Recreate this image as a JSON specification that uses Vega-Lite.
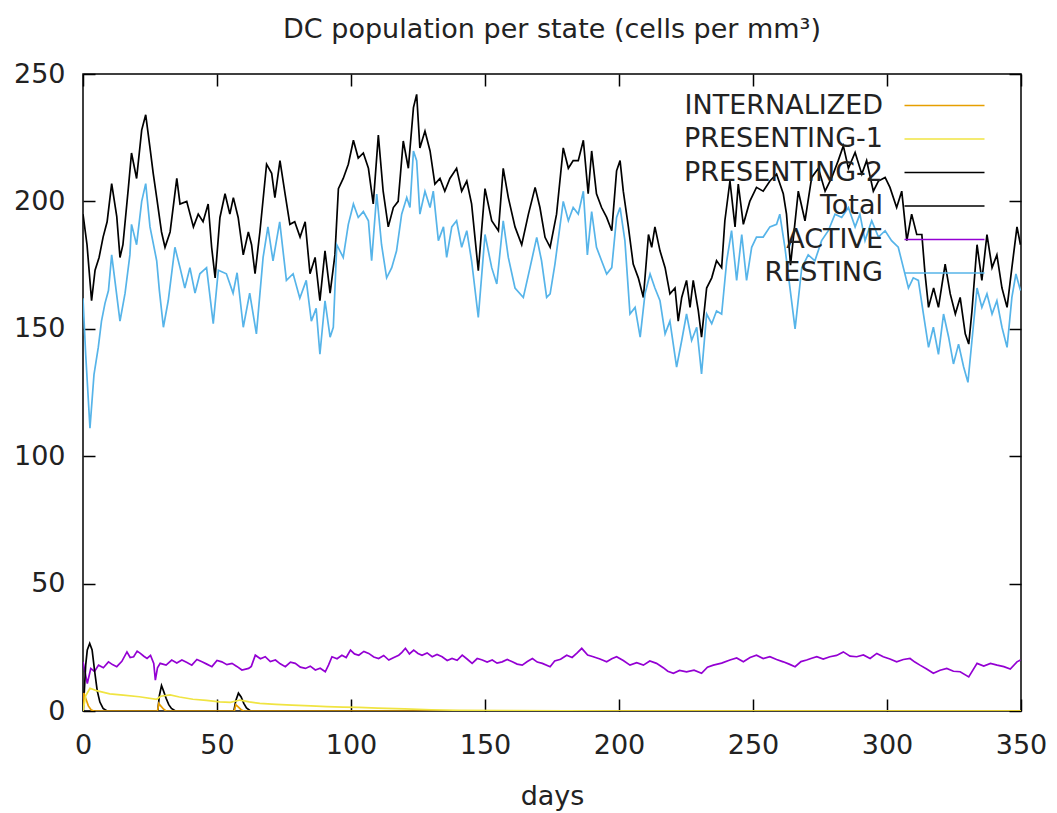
{
  "$schema": "https://vega.github.io/schema/vega-lite/v6.json",
  "autosize": {"type": "none"},
  "padding": {"left": 83, "top": 74, "right": 36, "bottom": 102},
  "width": 938,
  "height": 637,
  "background": "white",
  "config": {
    "font": "DejaVu Sans",
    "view": {"stroke": "#000000", "strokeWidth": 1.5},
    "axis": {"grid": false, "domain": false, "tickColor": "#000000", "tickWidth": 1.5, "tickSize": -12, "labelFont": "DejaVu Sans", "labelFontSize": 27, "labelColor": "#222222", "titleFont": "DejaVu Sans", "titleFontSize": 27, "titleFontWeight": "normal", "titleColor": "#222222", "labelFlush": false, "labelOverlap": false}
  },
  "title": {"text": "DC population per state (cells per mm³)", "font": "DejaVu Sans", "fontSize": 27, "fontWeight": "normal", "color": "#222222", "anchor": "middle", "baseline": "alphabetic", "offset": -5},
  "resolve": {"axis": {"x": "independent", "y": "independent"}},
  "layer": [
    {
      "data": {"values": [
        {"s":"Total","d":0,"v":195},{"s":"Total","d":1.5,"v":183},{"s":"Total","d":3.2,"v":161},{"s":"Total","d":4.5,"v":173},{"s":"Total","d":6,"v":178},{"s":"Total","d":7.5,"v":186},{"s":"Total","d":9,"v":192},{"s":"Total","d":10.7,"v":207},{"s":"Total","d":12.6,"v":194},{"s":"Total","d":13.8,"v":178},{"s":"Total","d":14.9,"v":183},{"s":"Total","d":16.9,"v":205},{"s":"Total","d":18.1,"v":219},{"s":"Total","d":20,"v":209},{"s":"Total","d":21.9,"v":228},{"s":"Total","d":23.4,"v":234},{"s":"Total","d":25,"v":221},{"s":"Total","d":26.2,"v":211},{"s":"Total","d":27.5,"v":201.5},{"s":"Total","d":29.3,"v":188},{"s":"Total","d":30.6,"v":182},{"s":"Total","d":32.5,"v":188},{"s":"Total","d":35,"v":209},{"s":"Total","d":36.2,"v":199},{"s":"Total","d":38.7,"v":200},{"s":"Total","d":41.2,"v":190},{"s":"Total","d":43,"v":195},{"s":"Total","d":44.8,"v":192},{"s":"Total","d":46.7,"v":199},{"s":"Total","d":48,"v":182},{"s":"Total","d":49.3,"v":170},{"s":"Total","d":51.1,"v":193.7},{"s":"Total","d":53,"v":203},{"s":"Total","d":54.8,"v":195},{"s":"Total","d":56.1,"v":201.5},{"s":"Total","d":57.9,"v":193.7},{"s":"Total","d":59.8,"v":179},{"s":"Total","d":61.7,"v":188},{"s":"Total","d":62.9,"v":183},{"s":"Total","d":64.2,"v":171.6},{"s":"Total","d":66,"v":188},{"s":"Total","d":68.5,"v":214.6},{"s":"Total","d":70.4,"v":211},{"s":"Total","d":71.6,"v":201.5},{"s":"Total","d":73.5,"v":216},{"s":"Total","d":75.4,"v":203},{"s":"Total","d":77.2,"v":191},{"s":"Total","d":79,"v":192},{"s":"Total","d":81,"v":186},{"s":"Total","d":82.9,"v":192},{"s":"Total","d":84.7,"v":171.6},{"s":"Total","d":86.6,"v":178},{"s":"Total","d":88.4,"v":161},{"s":"Total","d":90.3,"v":180.6},{"s":"Total","d":92.2,"v":164},{"s":"Total","d":94,"v":179},{"s":"Total","d":95.3,"v":205},{"s":"Total","d":97.1,"v":209},{"s":"Total","d":99,"v":214.6},{"s":"Total","d":100.9,"v":224},{"s":"Total","d":102.7,"v":217},{"s":"Total","d":104.6,"v":219},{"s":"Total","d":106.5,"v":213},{"s":"Total","d":108.3,"v":199},{"s":"Total","d":110.2,"v":226},{"s":"Total","d":112,"v":204},{"s":"Total","d":113.9,"v":190},{"s":"Total","d":115.8,"v":197.6},{"s":"Total","d":117.6,"v":200},{"s":"Total","d":119.5,"v":223.7},{"s":"Total","d":121.4,"v":213},{"s":"Total","d":123.3,"v":236.8},{"s":"Total","d":124.5,"v":242},{"s":"Total","d":125.7,"v":221},{"s":"Total","d":127.6,"v":227.6},{"s":"Total","d":129.5,"v":219.8},{"s":"Total","d":131.3,"v":206.8},{"s":"Total","d":133.2,"v":209},{"s":"Total","d":135,"v":204},{"s":"Total","d":136.9,"v":209},{"s":"Total","d":139.4,"v":213},{"s":"Total","d":141.3,"v":204},{"s":"Total","d":143.2,"v":208},{"s":"Total","d":145,"v":199},{"s":"Total","d":147.5,"v":172.8},{"s":"Total","d":150,"v":205},{"s":"Total","d":152.5,"v":192.4},{"s":"Total","d":155,"v":188.5},{"s":"Total","d":156.8,"v":213},{"s":"Total","d":158.7,"v":201.5},{"s":"Total","d":161.2,"v":190},{"s":"Total","d":163.7,"v":183},{"s":"Total","d":166.2,"v":195},{"s":"Total","d":168.7,"v":205.5},{"s":"Total","d":170.5,"v":197.6},{"s":"Total","d":172.4,"v":185.9},{"s":"Total","d":174.3,"v":182},{"s":"Total","d":176.7,"v":195},{"s":"Total","d":179.2,"v":221},{"s":"Total","d":181.1,"v":213},{"s":"Total","d":182.9,"v":216},{"s":"Total","d":184.8,"v":216},{"s":"Total","d":186.7,"v":224},{"s":"Total","d":188.5,"v":203},{"s":"Total","d":189.8,"v":219.8},{"s":"Total","d":191.6,"v":203},{"s":"Total","d":193.5,"v":197.6},{"s":"Total","d":195.4,"v":193.7},{"s":"Total","d":197.3,"v":188.5},{"s":"Total","d":199.1,"v":212},{"s":"Total","d":200.4,"v":216},{"s":"Total","d":201.6,"v":204},{"s":"Total","d":203.5,"v":190},{"s":"Total","d":205.3,"v":175.4},{"s":"Total","d":207.2,"v":170},{"s":"Total","d":209.1,"v":162.3},{"s":"Total","d":211,"v":187},{"s":"Total","d":212.2,"v":182},{"s":"Total","d":213.4,"v":190},{"s":"Total","d":215.3,"v":180.6},{"s":"Total","d":217.2,"v":174},{"s":"Total","d":219,"v":163.7},{"s":"Total","d":220.9,"v":166},{"s":"Total","d":222.1,"v":153},{"s":"Total","d":223.4,"v":162.3},{"s":"Total","d":225.2,"v":169},{"s":"Total","d":226.5,"v":158.4},{"s":"Total","d":227.7,"v":169},{"s":"Total","d":229.6,"v":157},{"s":"Total","d":230.8,"v":146.7},{"s":"Total","d":232.7,"v":166},{"s":"Total","d":234.6,"v":170},{"s":"Total","d":236.4,"v":176.7},{"s":"Total","d":238.3,"v":174},{"s":"Total","d":239.5,"v":192.4},{"s":"Total","d":241.4,"v":208},{"s":"Total","d":243.3,"v":190},{"s":"Total","d":244.5,"v":206.8},{"s":"Total","d":246.4,"v":191},{"s":"Total","d":248.8,"v":200},{"s":"Total","d":251.3,"v":205.5},{"s":"Total","d":253.8,"v":204},{"s":"Total","d":256.3,"v":208},{"s":"Total","d":258.8,"v":210.7},{"s":"Total","d":261.3,"v":203},{"s":"Total","d":262.5,"v":195},{"s":"Total","d":264,"v":175},{"s":"Total","d":266.9,"v":204},{"s":"Total","d":269.4,"v":192.4},{"s":"Total","d":271.9,"v":209.4},{"s":"Total","d":274.4,"v":213},{"s":"Total","d":276.9,"v":204},{"s":"Total","d":279.4,"v":209.4},{"s":"Total","d":281.8,"v":216},{"s":"Total","d":283.7,"v":221.8},{"s":"Total","d":285.6,"v":213},{"s":"Total","d":288.1,"v":219.2},{"s":"Total","d":290.6,"v":210.7},{"s":"Total","d":292.4,"v":216},{"s":"Total","d":294.9,"v":204},{"s":"Total","d":296.8,"v":208},{"s":"Total","d":299.3,"v":209.4},{"s":"Total","d":301.1,"v":205.5},{"s":"Total","d":303.6,"v":197.6},{"s":"Total","d":305.5,"v":204},{"s":"Total","d":307.4,"v":184.6},{"s":"Total","d":309.2,"v":195},{"s":"Total","d":311.1,"v":187},{"s":"Total","d":313,"v":187},{"s":"Total","d":314.2,"v":171.5},{"s":"Total","d":315.5,"v":158.4},{"s":"Total","d":317.4,"v":166},{"s":"Total","d":319.2,"v":158.4},{"s":"Total","d":321.7,"v":175.4},{"s":"Total","d":323.6,"v":163.7},{"s":"Total","d":325.5,"v":155.8},{"s":"Total","d":327.3,"v":162.3},{"s":"Total","d":329.2,"v":148},{"s":"Total","d":330.5,"v":144},{"s":"Total","d":331.7,"v":157},{"s":"Total","d":333.6,"v":183},{"s":"Total","d":335.4,"v":169},{"s":"Total","d":337.3,"v":187},{"s":"Total","d":339.2,"v":174},{"s":"Total","d":341,"v":179},{"s":"Total","d":342.9,"v":166},{"s":"Total","d":344.8,"v":158.4},{"s":"Total","d":346.6,"v":174},{"s":"Total","d":348.5,"v":190},{"s":"Total","d":349.8,"v":183},

        {"s":"RESTING","d":0,"v":162},{"s":"RESTING","d":1,"v":140},{"s":"RESTING","d":2.6,"v":111},{"s":"RESTING","d":4.1,"v":132},{"s":"RESTING","d":5.7,"v":142.7},{"s":"RESTING","d":6.9,"v":153},{"s":"RESTING","d":8.2,"v":160},{"s":"RESTING","d":9.5,"v":165},{"s":"RESTING","d":10.7,"v":179},{"s":"RESTING","d":11.9,"v":169},{"s":"RESTING","d":13.8,"v":153},{"s":"RESTING","d":15.7,"v":164},{"s":"RESTING","d":17.5,"v":179},{"s":"RESTING","d":18.1,"v":191},{"s":"RESTING","d":20,"v":183},{"s":"RESTING","d":21.9,"v":200},{"s":"RESTING","d":23.4,"v":207},{"s":"RESTING","d":25,"v":190},{"s":"RESTING","d":27.5,"v":176.7},{"s":"RESTING","d":28.5,"v":165},{"s":"RESTING","d":30,"v":150.6},{"s":"RESTING","d":31.8,"v":161},{"s":"RESTING","d":34.3,"v":182},{"s":"RESTING","d":36.2,"v":174},{"s":"RESTING","d":38,"v":166},{"s":"RESTING","d":39.9,"v":174},{"s":"RESTING","d":41.8,"v":164},{"s":"RESTING","d":43.6,"v":171.6},{"s":"RESTING","d":46.1,"v":174},{"s":"RESTING","d":48.6,"v":152},{"s":"RESTING","d":50.5,"v":173},{"s":"RESTING","d":53.5,"v":171.6},{"s":"RESTING","d":56,"v":164},{"s":"RESTING","d":57.5,"v":172},{"s":"RESTING","d":59.8,"v":150.6},{"s":"RESTING","d":62.2,"v":164},{"s":"RESTING","d":64.7,"v":148},{"s":"RESTING","d":67.2,"v":178},{"s":"RESTING","d":69,"v":190},{"s":"RESTING","d":70.9,"v":176.7},{"s":"RESTING","d":73.4,"v":192},{"s":"RESTING","d":75.9,"v":169},{"s":"RESTING","d":78.4,"v":171.6},{"s":"RESTING","d":80.9,"v":162},{"s":"RESTING","d":83.3,"v":169},{"s":"RESTING","d":85.2,"v":153},{"s":"RESTING","d":87,"v":158},{"s":"RESTING","d":88.4,"v":140},{"s":"RESTING","d":90.3,"v":161},{"s":"RESTING","d":92.2,"v":146.7},{"s":"RESTING","d":93.4,"v":150.6},{"s":"RESTING","d":94.7,"v":183},{"s":"RESTING","d":97.1,"v":178},{"s":"RESTING","d":99,"v":191},{"s":"RESTING","d":100.9,"v":199},{"s":"RESTING","d":102.7,"v":193.7},{"s":"RESTING","d":104.6,"v":196},{"s":"RESTING","d":106.5,"v":192.4},{"s":"RESTING","d":107.7,"v":176.7},{"s":"RESTING","d":109.6,"v":202.9},{"s":"RESTING","d":111.4,"v":183},{"s":"RESTING","d":113.3,"v":170},{"s":"RESTING","d":115.2,"v":174},{"s":"RESTING","d":117,"v":180.6},{"s":"RESTING","d":118.9,"v":195},{"s":"RESTING","d":120.8,"v":201.5},{"s":"RESTING","d":122,"v":197.6},{"s":"RESTING","d":123.3,"v":219.8},{"s":"RESTING","d":124.5,"v":216},{"s":"RESTING","d":125.7,"v":195},{"s":"RESTING","d":127.6,"v":204},{"s":"RESTING","d":129.5,"v":197.6},{"s":"RESTING","d":130.7,"v":204},{"s":"RESTING","d":132.6,"v":184.6},{"s":"RESTING","d":134.5,"v":190},{"s":"RESTING","d":135.7,"v":178},{"s":"RESTING","d":137.6,"v":190},{"s":"RESTING","d":139.4,"v":192.4},{"s":"RESTING","d":141.3,"v":182},{"s":"RESTING","d":143.2,"v":188.5},{"s":"RESTING","d":145,"v":176.7},{"s":"RESTING","d":147.5,"v":154.5},{"s":"RESTING","d":150,"v":187},{"s":"RESTING","d":152.5,"v":174},{"s":"RESTING","d":154.4,"v":167.6},{"s":"RESTING","d":156.8,"v":192.4},{"s":"RESTING","d":158.7,"v":178},{"s":"RESTING","d":161.2,"v":166},{"s":"RESTING","d":164.3,"v":162.3},{"s":"RESTING","d":166.8,"v":174},{"s":"RESTING","d":169.3,"v":185.9},{"s":"RESTING","d":171.1,"v":176.7},{"s":"RESTING","d":173,"v":162.3},{"s":"RESTING","d":174.3,"v":163.7},{"s":"RESTING","d":176.1,"v":175.4},{"s":"RESTING","d":179.2,"v":200},{"s":"RESTING","d":181.1,"v":192.4},{"s":"RESTING","d":182.9,"v":197.6},{"s":"RESTING","d":184.8,"v":195},{"s":"RESTING","d":186.7,"v":204},{"s":"RESTING","d":188.2,"v":179},{"s":"RESTING","d":189.8,"v":196},{"s":"RESTING","d":191.6,"v":182},{"s":"RESTING","d":193.5,"v":176.7},{"s":"RESTING","d":195.4,"v":171.5},{"s":"RESTING","d":197.3,"v":174},{"s":"RESTING","d":199.1,"v":193.7},{"s":"RESTING","d":200.4,"v":197.6},{"s":"RESTING","d":202.2,"v":184.6},{"s":"RESTING","d":204.1,"v":155.8},{"s":"RESTING","d":206,"v":158.4},{"s":"RESTING","d":207.9,"v":146.7},{"s":"RESTING","d":209.7,"v":163.7},{"s":"RESTING","d":211.6,"v":171.5},{"s":"RESTING","d":213.4,"v":166},{"s":"RESTING","d":215.3,"v":161},{"s":"RESTING","d":217.2,"v":148},{"s":"RESTING","d":219,"v":153},{"s":"RESTING","d":221.5,"v":135},{"s":"RESTING","d":223.4,"v":145.4},{"s":"RESTING","d":225.2,"v":155.8},{"s":"RESTING","d":227.1,"v":145.4},{"s":"RESTING","d":229,"v":150.6},{"s":"RESTING","d":230.8,"v":132.3},{"s":"RESTING","d":232.7,"v":155.8},{"s":"RESTING","d":234.6,"v":152},{"s":"RESTING","d":236.4,"v":157},{"s":"RESTING","d":238.3,"v":155.8},{"s":"RESTING","d":240.2,"v":176.7},{"s":"RESTING","d":242,"v":188.5},{"s":"RESTING","d":243.9,"v":169},{"s":"RESTING","d":245.8,"v":187},{"s":"RESTING","d":247.6,"v":169},{"s":"RESTING","d":249.5,"v":182},{"s":"RESTING","d":251.3,"v":186},{"s":"RESTING","d":253.8,"v":186},{"s":"RESTING","d":256.3,"v":190},{"s":"RESTING","d":258.8,"v":191},{"s":"RESTING","d":260,"v":195},{"s":"RESTING","d":261.9,"v":182},{"s":"RESTING","d":263.8,"v":166},{"s":"RESTING","d":265.7,"v":150},{"s":"RESTING","d":268.2,"v":174},{"s":"RESTING","d":270.6,"v":179},{"s":"RESTING","d":273.1,"v":176.7},{"s":"RESTING","d":275.6,"v":184.6},{"s":"RESTING","d":278.1,"v":188.5},{"s":"RESTING","d":280.6,"v":195},{"s":"RESTING","d":283.1,"v":193.7},{"s":"RESTING","d":285.6,"v":197.6},{"s":"RESTING","d":288.1,"v":190},{"s":"RESTING","d":289.9,"v":195},{"s":"RESTING","d":291.8,"v":184.6},{"s":"RESTING","d":294.3,"v":192.4},{"s":"RESTING","d":296.8,"v":186},{"s":"RESTING","d":299.3,"v":188.5},{"s":"RESTING","d":301.7,"v":184.6},{"s":"RESTING","d":304.2,"v":182},{"s":"RESTING","d":306.1,"v":174},{"s":"RESTING","d":308,"v":166},{"s":"RESTING","d":309.8,"v":170},{"s":"RESTING","d":311.7,"v":169},{"s":"RESTING","d":313.6,"v":155.8},{"s":"RESTING","d":315.5,"v":142.7},{"s":"RESTING","d":317.3,"v":150.6},{"s":"RESTING","d":319.2,"v":140},{"s":"RESTING","d":321.1,"v":155.8},{"s":"RESTING","d":323,"v":146.7},{"s":"RESTING","d":324.8,"v":136.2},{"s":"RESTING","d":326.7,"v":144},{"s":"RESTING","d":328.6,"v":135},{"s":"RESTING","d":330.2,"v":129},{"s":"RESTING","d":331.7,"v":145.4},{"s":"RESTING","d":333.6,"v":166},{"s":"RESTING","d":335.4,"v":158.4},{"s":"RESTING","d":337.3,"v":163.7},{"s":"RESTING","d":339.2,"v":155.8},{"s":"RESTING","d":341,"v":161},{"s":"RESTING","d":342.9,"v":150.6},{"s":"RESTING","d":344.8,"v":142.7},{"s":"RESTING","d":346.6,"v":162.3},{"s":"RESTING","d":348.1,"v":171.5},{"s":"RESTING","d":349.8,"v":165},

        {"s":"ACTIVE","d":0,"v":19.3},{"s":"ACTIVE","d":1.6,"v":10.8},{"s":"ACTIVE","d":2.9,"v":16.7},{"s":"ACTIVE","d":4.3,"v":15.5},{"s":"ACTIVE","d":5.8,"v":18},{"s":"ACTIVE","d":7.6,"v":17},{"s":"ACTIVE","d":9.5,"v":19.3},{"s":"ACTIVE","d":11,"v":18.2},{"s":"ACTIVE","d":12.6,"v":17.4},{"s":"ACTIVE","d":14.5,"v":19.5},{"s":"ACTIVE","d":16.4,"v":23.2},{"s":"ACTIVE","d":17.6,"v":21},{"s":"ACTIVE","d":18.9,"v":21.3},{"s":"ACTIVE","d":20.2,"v":23.5},{"s":"ACTIVE","d":21.4,"v":22.6},{"s":"ACTIVE","d":22.7,"v":21.5},{"s":"ACTIVE","d":23.9,"v":20.6},{"s":"ACTIVE","d":25.2,"v":21.8},{"s":"ACTIVE","d":26.4,"v":18.7},{"s":"ACTIVE","d":27,"v":12.1},{"s":"ACTIVE","d":27.8,"v":17},{"s":"ACTIVE","d":28.8,"v":18.7},{"s":"ACTIVE","d":31,"v":18},{"s":"ACTIVE","d":33.1,"v":20},{"s":"ACTIVE","d":35,"v":18.8},{"s":"ACTIVE","d":36.9,"v":20},{"s":"ACTIVE","d":38.8,"v":19},{"s":"ACTIVE","d":40.6,"v":18},{"s":"ACTIVE","d":42.5,"v":20.2},{"s":"ACTIVE","d":44.4,"v":19.3},{"s":"ACTIVE","d":46.2,"v":18.4},{"s":"ACTIVE","d":48.1,"v":17.4},{"s":"ACTIVE","d":50,"v":19.8},{"s":"ACTIVE","d":51.8,"v":19.3},{"s":"ACTIVE","d":53.7,"v":18.2},{"s":"ACTIVE","d":55.6,"v":18.7},{"s":"ACTIVE","d":57.4,"v":17.5},{"s":"ACTIVE","d":59.3,"v":16.1},{"s":"ACTIVE","d":61.8,"v":16.7},{"s":"ACTIVE","d":62.8,"v":17.5},{"s":"ACTIVE","d":64.3,"v":21.9},{"s":"ACTIVE","d":66.2,"v":20.5},{"s":"ACTIVE","d":68,"v":21.3},{"s":"ACTIVE","d":69.9,"v":19.4},{"s":"ACTIVE","d":71.8,"v":20},{"s":"ACTIVE","d":73.6,"v":18.5},{"s":"ACTIVE","d":75.5,"v":17.4},{"s":"ACTIVE","d":77.4,"v":19.2},{"s":"ACTIVE","d":79.2,"v":18.7},{"s":"ACTIVE","d":81.1,"v":17.2},{"s":"ACTIVE","d":83,"v":16.7},{"s":"ACTIVE","d":84.8,"v":17.6},{"s":"ACTIVE","d":86.7,"v":16.1},{"s":"ACTIVE","d":88.5,"v":16.8},{"s":"ACTIVE","d":90.4,"v":15.4},{"s":"ACTIVE","d":91.6,"v":18},{"s":"ACTIVE","d":92.9,"v":21.3},{"s":"ACTIVE","d":94.8,"v":20.5},{"s":"ACTIVE","d":96.6,"v":21.9},{"s":"ACTIVE","d":98.2,"v":21},{"s":"ACTIVE","d":99.8,"v":23.9},{"s":"ACTIVE","d":101.3,"v":22.4},{"s":"ACTIVE","d":102.9,"v":21.9},{"s":"ACTIVE","d":104.8,"v":23.4},{"s":"ACTIVE","d":106.6,"v":22.6},{"s":"ACTIVE","d":108.5,"v":21.2},{"s":"ACTIVE","d":110.3,"v":20.6},{"s":"ACTIVE","d":112.2,"v":21.8},{"s":"ACTIVE","d":114.1,"v":20},{"s":"ACTIVE","d":116,"v":21},{"s":"ACTIVE","d":117.8,"v":21.9},{"s":"ACTIVE","d":119,"v":23},{"s":"ACTIVE","d":120.3,"v":24.6},{"s":"ACTIVE","d":121.8,"v":22.4},{"s":"ACTIVE","d":123.4,"v":23.9},{"s":"ACTIVE","d":125,"v":22.6},{"s":"ACTIVE","d":126.5,"v":21.9},{"s":"ACTIVE","d":128.4,"v":22.8},{"s":"ACTIVE","d":130.3,"v":21.3},{"s":"ACTIVE","d":132.1,"v":22.2},{"s":"ACTIVE","d":134,"v":21.3},{"s":"ACTIVE","d":135.9,"v":19.8},{"s":"ACTIVE","d":137.7,"v":20.6},{"s":"ACTIVE","d":139.6,"v":19.9},{"s":"ACTIVE","d":141.5,"v":21.9},{"s":"ACTIVE","d":143.3,"v":20.4},{"s":"ACTIVE","d":145.2,"v":18.7},{"s":"ACTIVE","d":147.1,"v":20.6},{"s":"ACTIVE","d":149,"v":20},{"s":"ACTIVE","d":150.8,"v":19.2},{"s":"ACTIVE","d":152.7,"v":20},{"s":"ACTIVE","d":154.5,"v":18.8},{"s":"ACTIVE","d":156.4,"v":19.3},{"s":"ACTIVE","d":158.3,"v":20.2},{"s":"ACTIVE","d":160.2,"v":19.3},{"s":"ACTIVE","d":162,"v":18.4},{"s":"ACTIVE","d":163.9,"v":18},{"s":"ACTIVE","d":165.8,"v":19.4},{"s":"ACTIVE","d":167.7,"v":20.6},{"s":"ACTIVE","d":169.5,"v":19.2},{"s":"ACTIVE","d":171.4,"v":18.7},{"s":"ACTIVE","d":174.3,"v":17.4},{"s":"ACTIVE","d":176,"v":19.6},{"s":"ACTIVE","d":178.2,"v":20.3},{"s":"ACTIVE","d":180.5,"v":21.9},{"s":"ACTIVE","d":182.5,"v":21},{"s":"ACTIVE","d":184.4,"v":22.8},{"s":"ACTIVE","d":186.1,"v":24.6},{"s":"ACTIVE","d":188.3,"v":22},{"s":"ACTIVE","d":190.4,"v":21.3},{"s":"ACTIVE","d":192.9,"v":20.4},{"s":"ACTIVE","d":195.4,"v":19.3},{"s":"ACTIVE","d":197.3,"v":20.5},{"s":"ACTIVE","d":199.1,"v":21.3},{"s":"ACTIVE","d":201.6,"v":19.8},{"s":"ACTIVE","d":204.1,"v":18},{"s":"ACTIVE","d":206.6,"v":19},{"s":"ACTIVE","d":209.1,"v":18},{"s":"ACTIVE","d":211.5,"v":19.6},{"s":"ACTIVE","d":214,"v":18.7},{"s":"ACTIVE","d":216.5,"v":17},{"s":"ACTIVE","d":218.2,"v":15.6},{"s":"ACTIVE","d":220.3,"v":14.8},{"s":"ACTIVE","d":222.6,"v":15.9},{"s":"ACTIVE","d":225.2,"v":15.4},{"s":"ACTIVE","d":228,"v":16},{"s":"ACTIVE","d":230.8,"v":14.8},{"s":"ACTIVE","d":233,"v":17.2},{"s":"ACTIVE","d":235.2,"v":18},{"s":"ACTIVE","d":238.3,"v":18.8},{"s":"ACTIVE","d":241.4,"v":20},{"s":"ACTIVE","d":243.9,"v":20.8},{"s":"ACTIVE","d":246.4,"v":19.3},{"s":"ACTIVE","d":248.9,"v":21},{"s":"ACTIVE","d":251.3,"v":21.9},{"s":"ACTIVE","d":253.8,"v":20.6},{"s":"ACTIVE","d":256.3,"v":21.3},{"s":"ACTIVE","d":258.8,"v":20.2},{"s":"ACTIVE","d":261.3,"v":19.3},{"s":"ACTIVE","d":263.5,"v":18.4},{"s":"ACTIVE","d":265.7,"v":17.4},{"s":"ACTIVE","d":267.9,"v":19.4},{"s":"ACTIVE","d":270,"v":20},{"s":"ACTIVE","d":271.9,"v":20.7},{"s":"ACTIVE","d":273.8,"v":21.3},{"s":"ACTIVE","d":276.2,"v":20.4},{"s":"ACTIVE","d":278.7,"v":21.3},{"s":"ACTIVE","d":281.2,"v":21.8},{"s":"ACTIVE","d":283.7,"v":23.2},{"s":"ACTIVE","d":286.2,"v":21.5},{"s":"ACTIVE","d":288.7,"v":21.3},{"s":"ACTIVE","d":291.2,"v":22},{"s":"ACTIVE","d":293.7,"v":20.6},{"s":"ACTIVE","d":296.2,"v":22.6},{"s":"ACTIVE","d":298.6,"v":21.3},{"s":"ACTIVE","d":301.1,"v":20.4},{"s":"ACTIVE","d":303.6,"v":19.3},{"s":"ACTIVE","d":306.1,"v":20.2},{"s":"ACTIVE","d":308.6,"v":20.6},{"s":"ACTIVE","d":310.4,"v":19.2},{"s":"ACTIVE","d":312.3,"v":18},{"s":"ACTIVE","d":314.8,"v":16.5},{"s":"ACTIVE","d":317.3,"v":14.8},{"s":"ACTIVE","d":319.8,"v":16},{"s":"ACTIVE","d":322.3,"v":16.7},{"s":"ACTIVE","d":324.8,"v":15.6},{"s":"ACTIVE","d":327.3,"v":15.4},{"s":"ACTIVE","d":330.5,"v":13.4},{"s":"ACTIVE","d":333.6,"v":18.7},{"s":"ACTIVE","d":336.1,"v":17.6},{"s":"ACTIVE","d":338.6,"v":18.7},{"s":"ACTIVE","d":341.1,"v":18},{"s":"ACTIVE","d":343.6,"v":17.4},{"s":"ACTIVE","d":346,"v":16.5},{"s":"ACTIVE","d":348.5,"v":19.3},{"s":"ACTIVE","d":349.8,"v":20},

        {"s":"PRESENTING-2","d":0,"v":0},{"s":"PRESENTING-2","d":0.5,"v":8},{"s":"PRESENTING-2","d":1,"v":18},{"s":"PRESENTING-2","d":1.6,"v":24},{"s":"PRESENTING-2","d":2.5,"v":26.5},{"s":"PRESENTING-2","d":3.4,"v":24},{"s":"PRESENTING-2","d":4.3,"v":16},{"s":"PRESENTING-2","d":5.3,"v":8},{"s":"PRESENTING-2","d":6.3,"v":3.5},{"s":"PRESENTING-2","d":7.5,"v":1},{"s":"PRESENTING-2","d":9,"v":0},{"s":"PRESENTING-2","d":27.9,"v":0},{"s":"PRESENTING-2","d":28.5,"v":6},{"s":"PRESENTING-2","d":29.3,"v":10},{"s":"PRESENTING-2","d":30,"v":8},{"s":"PRESENTING-2","d":31,"v":5},{"s":"PRESENTING-2","d":32,"v":2.5},{"s":"PRESENTING-2","d":33,"v":1},{"s":"PRESENTING-2","d":34.5,"v":0},{"s":"PRESENTING-2","d":56.3,"v":0},{"s":"PRESENTING-2","d":57,"v":4},{"s":"PRESENTING-2","d":58,"v":7},{"s":"PRESENTING-2","d":59,"v":5.5},{"s":"PRESENTING-2","d":60,"v":3},{"s":"PRESENTING-2","d":61,"v":1.2},{"s":"PRESENTING-2","d":62.5,"v":0},{"s":"PRESENTING-2","d":350,"v":0},

        {"s":"INTERNALIZED","d":0,"v":0},{"s":"INTERNALIZED","d":0.3,"v":7},{"s":"INTERNALIZED","d":1,"v":5},{"s":"INTERNALIZED","d":2,"v":2},{"s":"INTERNALIZED","d":3,"v":0.5},{"s":"INTERNALIZED","d":4,"v":0},{"s":"INTERNALIZED","d":27.8,"v":0},{"s":"INTERNALIZED","d":28.3,"v":3},{"s":"INTERNALIZED","d":29,"v":2},{"s":"INTERNALIZED","d":30,"v":0.8},{"s":"INTERNALIZED","d":31,"v":0},{"s":"INTERNALIZED","d":56.5,"v":0},{"s":"INTERNALIZED","d":57,"v":2.5},{"s":"INTERNALIZED","d":58,"v":1.5},{"s":"INTERNALIZED","d":59,"v":0.5},{"s":"INTERNALIZED","d":60,"v":0},{"s":"INTERNALIZED","d":350,"v":0},

        {"s":"PRESENTING-1","d":0,"v":0},{"s":"PRESENTING-1","d":1,"v":6},{"s":"PRESENTING-1","d":2.6,"v":8.9},{"s":"PRESENTING-1","d":5,"v":8},{"s":"PRESENTING-1","d":10,"v":6.7},{"s":"PRESENTING-1","d":15,"v":6.2},{"s":"PRESENTING-1","d":21,"v":5.6},{"s":"PRESENTING-1","d":27.5,"v":4.6},{"s":"PRESENTING-1","d":29,"v":5.8},{"s":"PRESENTING-1","d":32.5,"v":6.3},{"s":"PRESENTING-1","d":36,"v":5.5},{"s":"PRESENTING-1","d":41,"v":4.6},{"s":"PRESENTING-1","d":46,"v":4.2},{"s":"PRESENTING-1","d":51,"v":3.6},{"s":"PRESENTING-1","d":55,"v":3.4},{"s":"PRESENTING-1","d":58.6,"v":4.3},{"s":"PRESENTING-1","d":62,"v":3.6},{"s":"PRESENTING-1","d":66,"v":3},{"s":"PRESENTING-1","d":72,"v":2.6},{"s":"PRESENTING-1","d":78,"v":2.3},{"s":"PRESENTING-1","d":85,"v":2},{"s":"PRESENTING-1","d":91,"v":1.7},{"s":"PRESENTING-1","d":97,"v":1.5},{"s":"PRESENTING-1","d":103,"v":1.4},{"s":"PRESENTING-1","d":110,"v":1.1},{"s":"PRESENTING-1","d":120,"v":0.8},{"s":"PRESENTING-1","d":130,"v":0.5},{"s":"PRESENTING-1","d":140,"v":0.3},{"s":"PRESENTING-1","d":160,"v":0.15},{"s":"PRESENTING-1","d":180,"v":0.05},{"s":"PRESENTING-1","d":200,"v":0},{"s":"PRESENTING-1","d":350,"v":0}
      ]},
      "mark": {"type": "line", "strokeWidth": 1.7, "clip": true},
      "encoding": {
        "x": {"field": "d", "type": "quantitative", "scale": {"domain": [0, 350], "nice": false, "zero": false}, "axis": {"values": [0, 50, 100, 150, 200, 250, 300, 350], "title": "days", "labelPadding": 33, "titlePadding": 25}},
        "y": {"field": "v", "type": "quantitative", "scale": {"domain": [0, 250], "nice": false}, "axis": {"values": [0, 50, 100, 150, 200, 250], "title": null, "labelPadding": 30}},
        "color": {
          "field": "s", "type": "nominal",
          "scale": {"domain": ["INTERNALIZED", "PRESENTING-1", "PRESENTING-2", "Total", "ACTIVE", "RESTING"], "range": ["#E69F00", "#F0E442", "#000000", "#000000", "#9400D3", "#56B4E9"]},
          "legend": {"orient": "none", "legendX": 822, "legendY": 18, "title": null, "direction": "vertical", "symbolType": "M-4,0H4", "symbolSize": 400, "symbolStrokeWidth": 1.5, "symbolFillColor": "transparent", "symbolOffset": 26, "labelAlign": "right", "labelOffset": -75, "labelFont": "DejaVu Sans", "labelFontSize": 27, "labelColor": "#222222", "labelLimit": 500, "rowPadding": 5.5, "padding": 0}
        }
      }
    },
    {
      "data": {"values": [{"d": 0, "v": 0}, {"d": 350, "v": 250}]},
      "mark": {"type": "point", "opacity": 0},
      "encoding": {
        "x": {"field": "d", "type": "quantitative", "axis": {"orient": "top", "values": [0, 50, 100, 150, 200, 250, 300, 350], "labels": false, "title": null}},
        "y": {"field": "v", "type": "quantitative", "axis": {"orient": "right", "values": [0, 50, 100, 150, 200, 250], "labels": false, "title": null}}
      }
    }
  ]
}
